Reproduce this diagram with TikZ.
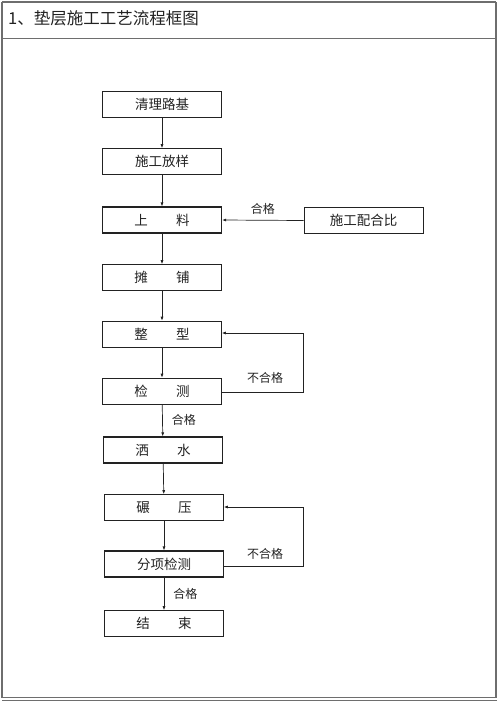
\documentclass[tikz,border=0pt]{standalone}
\usepackage{fontspec}
\setmainfont{Liberation Serif}
\newfontfamily\cjk{Noto Sans CJK SC}
\usetikzlibrary{arrows.meta,positioning}
\definecolor{frame}{HTML}{6E6E6E}
\definecolor{ink}{HTML}{222222}

\begin{document}
\begin{tikzpicture}[
  x=1pt, y=-1pt, >={Latex[length=4pt,width=3pt]},
  every node/.append style={text=ink},
  stepbox/.style={draw=ink, line width=0.6pt, minimum width=119pt, minimum height=26pt, inner sep=0pt, font=\cjk\fontsize{13.5}{15}\selectfont},
  heavy/.style={stepbox, line width=1.2pt},
  lbl/.style={font=\cjk\fontsize{12}{14}\selectfont, inner sep=1pt},
  flow/.style={->, draw=ink, line width=0.7pt},
]
\useasboundingbox (0,0) rectangle (500,702);

% page frame
\draw[frame, line width=1.4pt] (2,2) -- (496,2);
\draw[frame, line width=1.4pt] (2,2) -- (2,698);
\draw[frame, line width=2pt] (496,2) -- (496,698);
\draw[frame, line width=1pt] (2,38) -- (496,38);
\draw[frame, line width=1pt] (2,697) -- (497,697);
\draw[frame, line width=1pt] (2,700.5) -- (497,700.5);
\node[anchor=west, font=\cjk\fontsize{16.5}{19}\selectfont, inner sep=0pt] (title) at (8,18) {1、垫层施工工艺流程框图};

% main column
\node[stepbox] (clean) at (162,104) {清理路基};
\node[stepbox] (stake) at (162,161.5) {施工放样};
\node[heavy] (feed) at (162,220) {上\hspace{2.1em}料};
\node[stepbox] (spread) at (162,277.5) {摊\hspace{2.1em}铺};
\node[stepbox] (shape) at (162,334) {整\hspace{2.1em}型};
\node[stepbox] (check) at (162,391) {检\hspace{2.1em}测};
\node[heavy] (water) at (163,450) {洒\hspace{2.1em}水};
\node[stepbox] (roll) at (164,507.5) {碾\hspace{2.1em}压};
\node[heavy] (subchk) at (164,564) {分项检测};
\node[stepbox] (finish) at (164,623.5) {结\hspace{2.1em}束};

% mix ratio
\node[stepbox] (mix) at (363.5,220.5) {施工配合比};
\draw[flow] (mix.west) -- (feed.east) node[lbl, midway, above=4pt] (okmix) {合格};

\draw[flow] (clean) -- (stake);
\draw[flow] (stake) -- (feed);
\draw[flow] (feed) -- (spread);
\draw[flow] (spread) -- (shape);
\draw[flow] (shape) -- (check);
\draw[flow] (check) -- (water) node[lbl, midway, right=8pt] (okcheck) {合格};
\draw[flow] (water) -- (roll);
\draw[flow] (roll) -- (subchk);
\draw[flow] (subchk) -- (finish) node[lbl, midway, right=8pt] (oksub) {合格};

% return loops
\coordinate (loopA) at (303,392);
\coordinate (loopB) at (303,333);
\draw[flow] (check.east |- loopA) -- (loopA) -- (loopB) -- (shape.east |- loopB);
\node[lbl] (failA) at (265,378) {不合格};
\coordinate (loopC) at (303,566);
\coordinate (loopD) at (303,507);
\draw[flow] (subchk.east |- loopC) -- (loopC) -- (loopD) -- (roll.east |- loopD);
\node[lbl] (failB) at (265,554) {不合格};

\end{tikzpicture}
\end{document}
